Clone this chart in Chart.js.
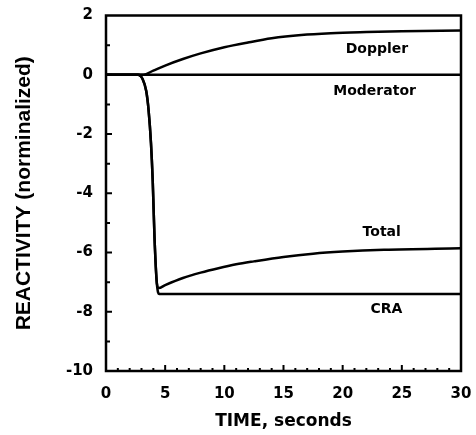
<!DOCTYPE html>
<html>
<head>
<meta charset="utf-8">
<script src="https://cdn.jsdelivr.net/npm/chart.js@4.4.1/dist/chart.umd.min.js"></script>
<style>
  html, body { margin: 0; padding: 0; background: #fff; }
  #wrap { width: 476px; height: 435px; }
</style>
</head>
<body>
<div id="wrap"><canvas id="reactivityChart" width="476" height="435"></canvas></div>
<script>
// Dane (czas w sekundach, reaktywność znormalizowana)
const moderatorTime = [0, 30];
const moderatorValue = [0, 0];

const dopplerTime = [0, 3.15, 4, 5, 6.5, 8, 10, 12, 14, 16.5, 19, 22, 25, 30];
const dopplerValue = [0, 0, 0.14, 0.31, 0.53, 0.72, 0.93, 1.09, 1.23, 1.34, 1.40, 1.44, 1.47, 1.49];

const craTime = [0, 2.7, 3.1, 3.4, 3.6, 3.8, 3.95, 4.1, 4.3, 4.5, 30];
const craValue = [0, 0, -0.15, -0.55, -1.2, -2.3, -3.6, -5.5, -7.05, -7.4, -7.4];

const totalTime = [0, 2.7, 3.1, 3.4, 3.6, 3.8, 3.95, 4.1, 4.3, 4.45, 5, 6.5, 8, 9.5, 11, 12.5, 15, 17.5, 20, 23.5, 30];
const totalValue = [0, 0, -0.15, -0.55, -1.2, -2.3, -3.6, -5.5, -7.05, -7.2, -7.1, -6.86, -6.68, -6.53, -6.40, -6.30, -6.15, -6.04, -5.97, -5.91, -5.86];

// Etykiety krzywych (nazwa, czas, wartość)
const curveLabels = ["Doppler", "Moderator", "Total", "CRA"];
const curveLabelTime = [22.9, 22.7, 23.3, 23.7];
const curveLabelValue = [0.87, -0.55, -5.31, -7.92];

const xTitle = "TIME, seconds";
const yTitle = "REACTIVITY (norminalized)";

function toPoints(times, values) {
    return times.map((t, i) => ({ x: t, y: values[i] }));
}

function lineSet(times, values) {
    return {
        data: toPoints(times, values),
        borderColor: '#000',
        borderWidth: 2.5,
        pointRadius: 0,
        showLine: true,
        fill: false,
        cubicInterpolationMode: 'monotone'
    };
}

// Ramka, ticki do środka i podpisy krzywych
const framePlugin = {
    id: 'frame',
    afterDraw(chart) {
        const ctx = chart.ctx;
        const area = chart.chartArea;
        const xs = chart.scales.x;
        const ys = chart.scales.y;
        ctx.save();
        ctx.strokeStyle = '#000';
        ctx.lineWidth = 2.5;
        ctx.strokeRect(area.left, area.top, area.right - area.left, area.bottom - area.top);

        ctx.lineWidth = 2;
        ctx.beginPath();
        for (let t = 1; t < 30; t++) {
            const px = xs.getPixelForValue(t);
            const len = t % 5 === 0 ? 6 : 3;
            ctx.moveTo(px, area.bottom);
            ctx.lineTo(px, area.bottom - len);
        }
        for (let v = -9; v < 2; v++) {
            const py = ys.getPixelForValue(v);
            const len = v % 2 === 0 ? 6 : 4;
            ctx.moveTo(area.left, py);
            ctx.lineTo(area.left + len, py);
        }
        ctx.stroke();

        ctx.fillStyle = '#000';
        ctx.font = 'bold 14px "DejaVu Sans"';
        ctx.textAlign = 'center';
        ctx.textBaseline = 'middle';
        curveLabels.forEach((name, i) => {
            ctx.fillText(name, xs.getPixelForValue(curveLabelTime[i]), ys.getPixelForValue(curveLabelValue[i]));
        });
        ctx.restore();
    }
};

new Chart(document.getElementById('reactivityChart'), {
    type: 'scatter',
    data: {
        datasets: [
            lineSet(moderatorTime, moderatorValue),
            lineSet(dopplerTime, dopplerValue),
            lineSet(craTime, craValue),
            lineSet(totalTime, totalValue)
        ]
    },
    options: {
        responsive: false,
        animation: false,
        layout: { padding: { top: 15.5, right: 15, left: 0, bottom: 0 } },
        plugins: {
            legend: { display: false },
            tooltip: { enabled: false }
        },
        scales: {
            x: {
                type: 'linear',
                min: 0,
                max: 30,
                afterFit(scale) {
                    scale.height = 64;
                    scale.paddingLeft = 0;
                    scale.paddingRight = 0;
                },
                grid: { display: false, drawTicks: false },
                border: { display: false },
                ticks: {
                    stepSize: 5,
                    padding: 14,
                    color: '#000',
                    font: { family: 'DejaVu Sans', size: 15, weight: 'bold' }
                },
                title: {
                    display: true,
                    text: xTitle,
                    color: '#000',
                    padding: { top: 0, bottom: 3 },
                    font: { family: 'DejaVu Sans', size: 17, weight: 'bold' }
                }
            },
            y: {
                type: 'linear',
                min: -10,
                max: 2,
                afterFit(scale) {
                    scale.width = 106;
                    scale.paddingTop = 0;
                    scale.paddingBottom = 0;
                },
                grid: { display: false, drawTicks: false },
                border: { display: false },
                ticks: {
                    stepSize: 2,
                    padding: 13,
                    color: '#000',
                    font: { family: 'DejaVu Sans', size: 15, weight: 'bold' }
                },
                title: {
                    display: true,
                    text: yTitle,
                    color: '#000',
                    padding: { top: 12, bottom: 0 },
                    font: { family: 'Liberation Sans', size: 21, weight: 'bold' }
                }
            }
        }
    },
    plugins: [framePlugin]
});
</script>
</body>
</html>
